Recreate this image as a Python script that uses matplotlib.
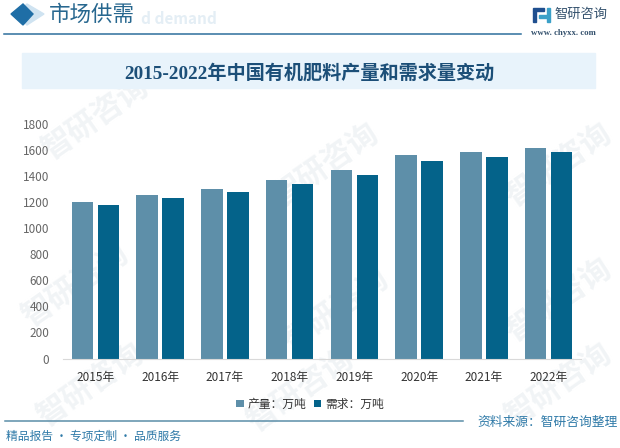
import matplotlib
matplotlib.use('Agg')
import matplotlib.pyplot as plt
from matplotlib.patches import Polygon, Rectangle
import numpy as np

plt.rcParams['font.family'] = ['Noto Sans CJK SC', 'DejaVu Sans']

years = ['2015年', '2016年', '2017年', '2018年', '2019年', '2020年', '2021年', '2022年']
output = [1200, 1250, 1300, 1370, 1445, 1555, 1580, 1612]
demand = [1175, 1228, 1272, 1335, 1405, 1510, 1540, 1585]
y_ticks = [0, 200, 400, 600, 800, 1000, 1200, 1400, 1600, 1800]

W, H = 620, 448
OUT_C = '#5e8fa9'
DEM_C = '#04638a'

fig = plt.figure(figsize=(W / 100, H / 100), dpi=100, facecolor='white')

# page furniture, drawn in pixel coords
bg = fig.add_axes([0, 0, 1, 1], zorder=0)
bg.set_xlim(0, W)
bg.set_ylim(H, 0)
bg.axis('off')

# watermarks
marks = [(95, 118), (325, 165), (558, 165), (75, 285), (335, 310), (558, 300), (90, 385), (300, 390), (558, 385)]
for mx, my in marks:
    bg.text(mx, my, '智研咨询', fontsize=22, color='#f1f4f6', rotation=35,
            ha='center', va='center', fontweight='bold', zorder=1)

# header
bg.add_patch(Polygon([(27, 4), (44, 14), (27, 25), (16, 14)], closed=True, color='#cfe3f1', zorder=2))
bg.add_patch(Polygon([(23, 4), (33, 14), (23, 25), (11, 14)], closed=True, color='#1f6ea6', zorder=3))
bg.text(49, 15, '市场供需', fontsize=15.5, color='#27678f', va='center', ha='left', zorder=3)
bg.text(141, 19, 'd demand', fontsize=11, color='#e4eef5', va='center', ha='left', fontweight='bold', zorder=2)
bg.plot([4, 521], [34, 34], color='#2d6f9c', lw=1.1, zorder=3)

# logo
bg.add_patch(Rectangle((533, 8), 11, 3, color='#1f4f8f', zorder=3))
bg.add_patch(Rectangle((533, 11), 3, 11, color='#1f4f8f', zorder=3))
bg.add_patch(Rectangle((547, 8), 3, 14, color='#3aa0c8', zorder=3))
bg.add_patch(Rectangle((539, 15), 8, 3, color='#3aa0c8', zorder=3))
bg.text(554, 14, '智研咨询', fontsize=9.5, color='#35526e', va='center', ha='left', zorder=3)
bg.text(531, 33, 'www. chyxx. com', fontsize=6.3, color='#35526e', va='center', ha='left',
        family='Liberation Serif', fontweight='bold', zorder=3)

# title band
bg.add_patch(Rectangle((22, 53), 573, 35, color='#e8f3fb', zorder=2))
bg.text(309, 73, '2015-2022年中国有机肥料产量和需求量变动', fontsize=13.8, color='#1c4f78',
        ha='center', va='center', fontweight='bold',
        family=['Liberation Serif', 'Noto Sans CJK SC'], zorder=3)

# footer
bg.plot([5, 463], [421, 421], color='#5b8ea8', lw=1.1, zorder=3)
bg.text(6, 436, '精品报告 · 专项定制 · 品质服务', fontsize=8.5, color='#2f7aa8', va='center', ha='left', zorder=3)
bg.text(477, 422, '资料来源：智研咨询整理', fontsize=9.2, color='#2f7aa8', va='center', ha='left', zorder=3)

# chart
ax = fig.add_axes([63 / W, 1 - 358.5 / H, 518 / W, 235 / H], zorder=2)
ax.patch.set_alpha(0)
x = np.arange(len(years))
bar_w = 0.33
ax.bar(x - 0.2, output, bar_w, color=OUT_C, label='产量：万吨')
ax.bar(x + 0.2, demand, bar_w, color=DEM_C, label='需求：万吨')
ax.set_xlim(-0.5, len(years) - 0.5)
ax.set_ylim(0, 1800)
ax.set_yticks(y_ticks)
ax.set_xticks(x)
ax.set_xticklabels(years)
ax.tick_params(axis='y', length=0, labelsize=8.5, labelcolor='#666666', pad=10)
ax.tick_params(axis='x', length=0, labelsize=8.5, labelcolor='#333333', pad=9)
for s in ['top', 'right', 'left']:
    ax.spines[s].set_visible(False)
ax.spines['bottom'].set_color('#d9d9d9')

ax.legend(loc='center', bbox_to_anchor=(310 / W, 1 - 404 / H), bbox_transform=fig.transFigure,
          ncol=2, frameon=False, fontsize=8.5, handlelength=0.6, handleheight=0.6,
          handletextpad=0.3, columnspacing=0.7, labelcolor='#333333')

fig.savefig('out.png', dpi=100)
